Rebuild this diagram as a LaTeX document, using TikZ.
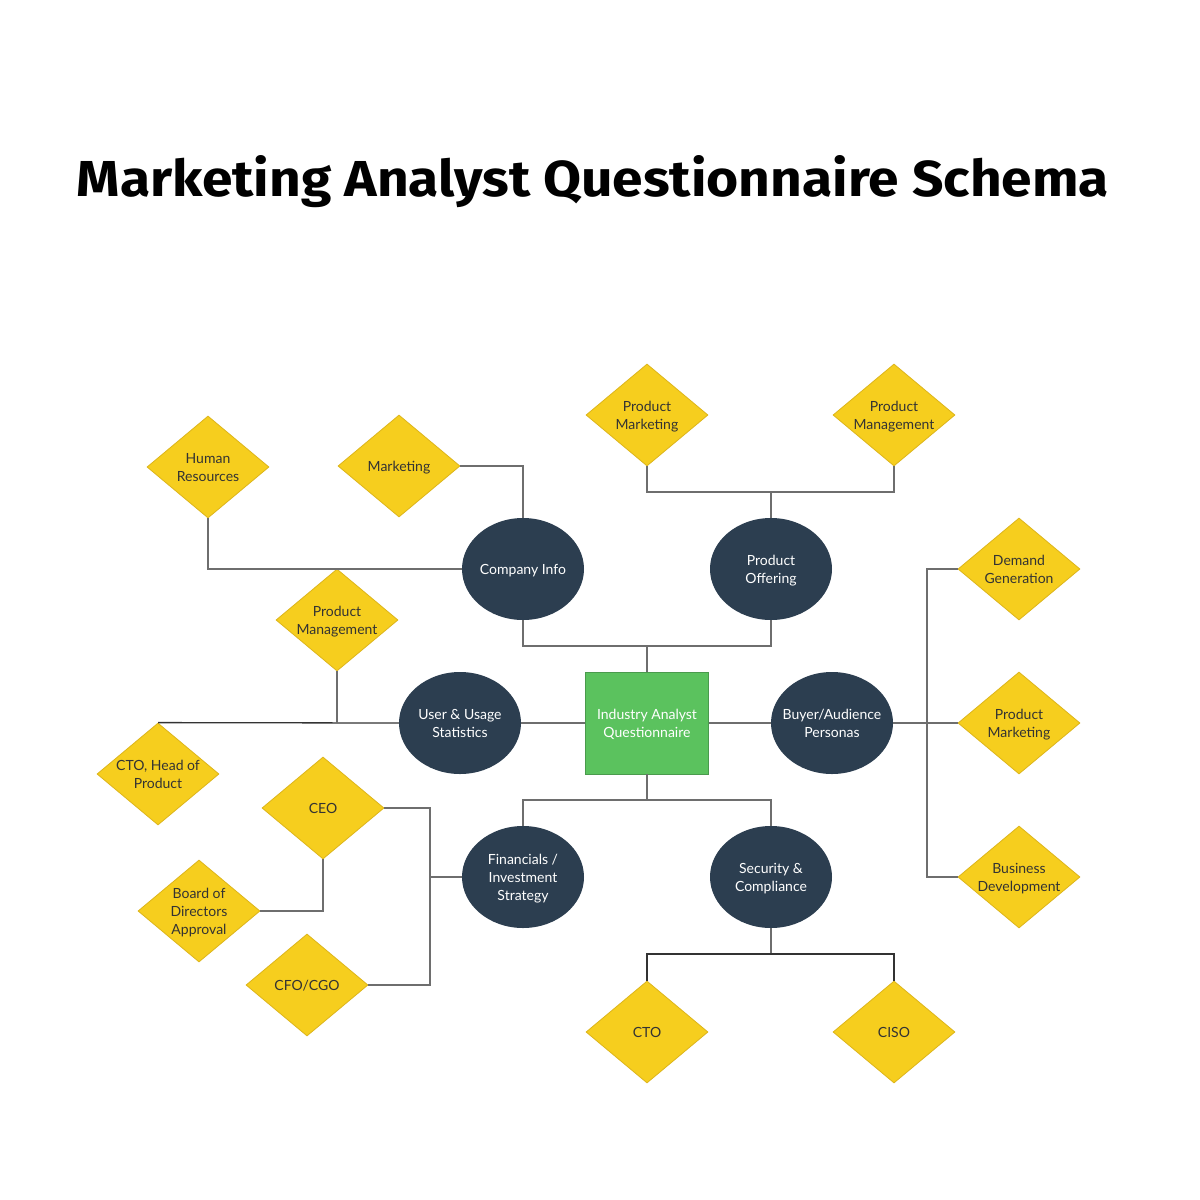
\documentclass[tikz,border=0pt]{standalone}
\usepackage{fontspec}
\setmainfont{Lato}
\newfontfamily\titlefont{Fira Sans}
\usetikzlibrary{shapes.geometric}
\definecolor{dyellow}{HTML}{F6CE1E}
\definecolor{dyedge}{HTML}{DDB51A}
\definecolor{navy}{HTML}{2C3E50}
\definecolor{hgreen}{HTML}{5BC25E}
\definecolor{hgedge}{HTML}{4A9A4D}
\definecolor{lgray}{HTML}{6E6E6E}
\definecolor{dtext}{HTML}{333333}
\begin{document}
\begin{tikzpicture}[x=1pt,y=-1pt,
  dia/.style={diamond, shape aspect=1.2, inner sep=-10pt, minimum width=122pt, minimum height=102pt,
    fill=dyellow, draw=dyedge, line width=0.8pt, text=dtext, font=\fontsize{14}{18}\selectfont, align=center, text depth=0pt},
  ell/.style={ellipse, inner sep=-10pt, minimum width=122pt, minimum height=102pt,
    fill=navy, text=white, font=\fontsize{14}{18}\selectfont, align=center, text depth=0pt},
  hub/.style={rectangle, minimum width=123pt, minimum height=102pt, inner sep=0pt,
    fill=hgreen, draw=hgedge, line width=0.8pt, text=white, font=\fontsize{14}{18}\selectfont, align=center, text depth=0pt},
  conn/.style={draw=lgray, line width=1.5pt},
  dconn/.style={draw=black!80, line width=1.3pt}
]
\fill[white] (0,0) rectangle (1200,1200);
\useasboundingbox (0,0) rectangle (1200,1200);

\node[anchor=base, inner sep=0pt] (title) at (593,196)
  {\resizebox{1032pt}{41pt}{\titlefont\bfseries Marketing Analyst Questionnaire Schema}};

\coordinate (j1) at (771,492);
\coordinate (j2) at (647,646);
\coordinate (j4) at (647,800);
\coordinate (j5) at (430,877);
\coordinate (j6) at (771,954);
\coordinate (rj) at (927,723);

% shapes
\node[dia] (hr) at (208,467) {Human\\Resources};
\node[dia] (mkt) at (399,466) {Marketing};
\node[dia] (pmk1) at (647,415) {Product\\Marketing};
\node[dia] (pmg1) at (894,415) {Product\\Management};
\node[dia] (dg) at (1019,569) {Demand\\Generation};
\node[dia] (pmk2) at (1019,723) {Product\\Marketing};
\node[dia] (bd) at (1019,877) {Business\\Development};
\node[dia] (pmg2) at (337,620) {Product\\Management};
\node[dia] (cto1) at (158,774) {CTO, Head of\\Product};
\node[dia] (ceo) at (323,808) {CEO};
\node[dia] (board) at (199,911) {Board of\\Directors\\Approval};
\node[dia] (cfo) at (307,985) {CFO/CGO};
\node[dia] (cto2) at (647,1032) {CTO};
\node[dia] (ciso) at (894,1032) {CISO};

\node[ell] (ci) at (523,569) {Company Info};
\node[ell] (po) at (771,569) {Product\\Offering};
\node[ell] (uu) at (460,723) {User \& Usage\\Statistics};
\node[ell] (ba) at (832,723) {Buyer/Audience\\Personas};
\node[ell] (fi) at (523,877) {Financials /\\Investment\\Strategy};
\node[ell] (sc) at (771,877) {Security \&\\Compliance};
\node[hub] (hub) at (647,723) {Industry Analyst\\Questionnaire};

% connectors
\draw[conn] (mkt.east) -| (ci.north);
\draw[conn] (hr.south) |- (ci.west);
\draw[conn] (pmk1.south) |- (j1) -| (pmg1.south);
\draw[conn] (po.north) -- (j1);
\draw[conn] (ci.south) |- (j2) -| (po.south);
\draw[conn] (hub.north) -- (j2);
\draw[conn] (hub.west) -- (uu.east);
\draw[dconn] (uu.west) -- (cto1.north);
\draw[conn] (pmg2.south) -- (pmg2.south |- uu.west);
\draw[conn] (hub.east) -- (ba.west);
\draw[conn] (ba.east) -- (pmk2.west);
\draw[conn] (dg.west) -| (rj) |- (bd.west);
\draw[conn] (hub.south) -- (j4);
\draw[conn] (fi.north) |- (j4) -| (sc.north);
\draw[conn] (fi.west) -- (j5);
\draw[conn] (ceo.east) -| (j5) |- (cfo.east);
\draw[conn] (ceo.south) |- (board.east);
\draw[conn] (sc.south) -- (j6);
\draw[dconn] (cto2.north) |- (j6) -| (ciso.north);
\end{tikzpicture}
\end{document}
